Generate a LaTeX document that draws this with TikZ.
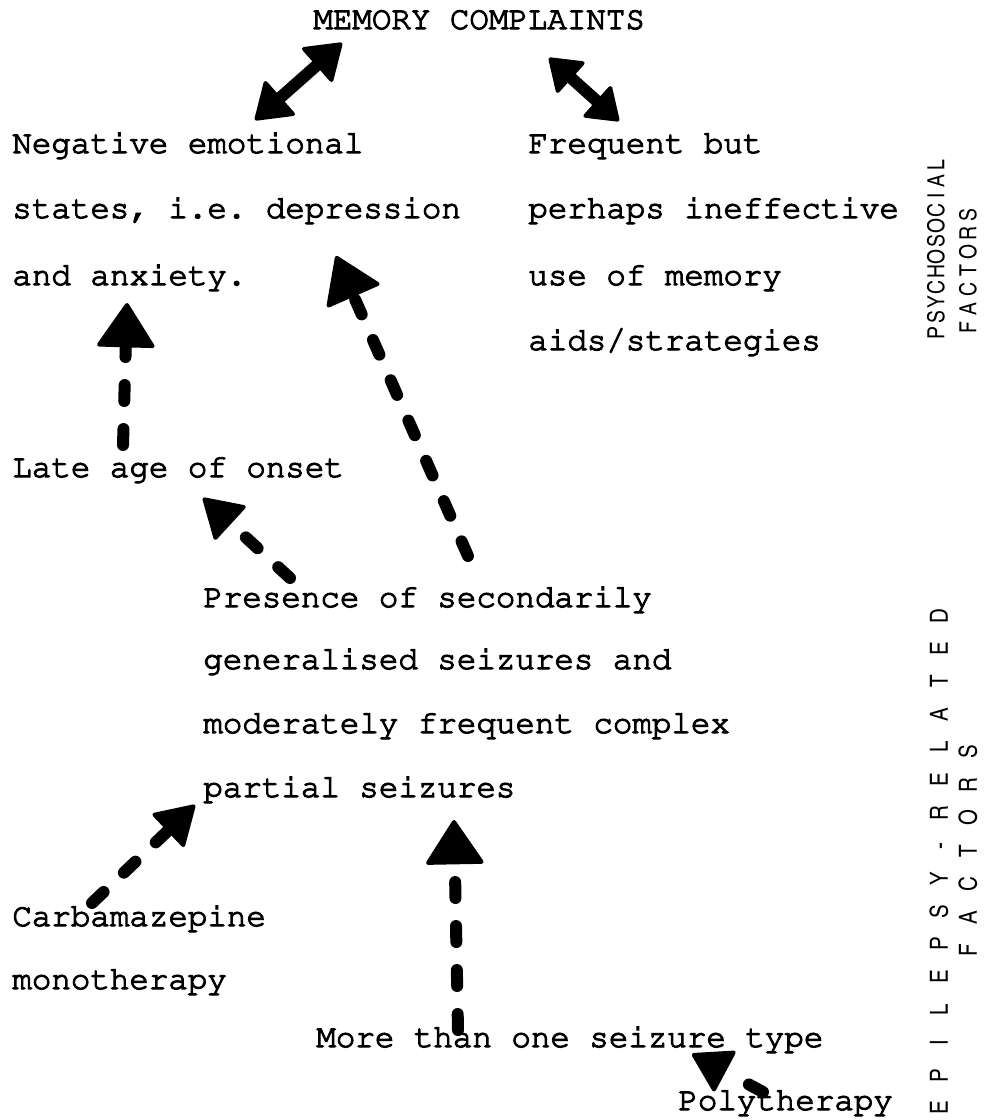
\documentclass[tikz,border=0pt]{standalone}
\usepackage[T1]{fontenc}
\usetikzlibrary{arrows.meta,calc}
\newlength{\lbw}
\newcommand{\Lb}[1]{\makebox[\lbw]{#1}}
\newcommand{\heavy}[1]{\special{pdf:literal direct 2 Tr 0.55 w}#1\special{pdf:literal direct 0 Tr}}
\tikzset{
  txt/.style={anchor=base west, inner sep=0pt,
    font=\fontfamily{pcr}\fontseries{m}\fontsize{16.25}{20}\selectfont\frenchspacing},
  sidetxt/.style={rotate=90, inner sep=0pt, anchor=center,
    font=\fontfamily{phv}\fontseries{mc}\fontsize{11.8}{14}\selectfont},
  bigside/.style={sidetxt, font=\fontfamily{phv}\fontseries{mc}\fontsize{12.5}{14}\selectfont},
  dasharrow/.style={line width=6pt, line cap=round, dash pattern=on 8pt off 14pt,
    -{Triangle[width=30pt,length=23pt,line width=2pt,round]}},
  smallhead/.style={line width=6pt, line cap=round, dash pattern=on 8pt off 14pt,
    -{Triangle[width=24pt,length=20pt,line width=2pt,round]}},
  dblarrow/.style={line width=6pt,
    {Triangle[width=24pt,length=18pt,line width=2pt,round]}-{Triangle[width=24pt,length=18pt,line width=2pt,round]}},
  dblsmall/.style={line width=6pt,
    {Triangle[width=22pt,length=16pt,line width=2pt,round]}-{Triangle[width=22pt,length=16pt,line width=2pt,round]}},
}
\begin{document}
\begin{tikzpicture}[x=0.5pt,y=-0.5pt]
\fill[white] (0,0) rectangle (984,1120);
\useasboundingbox (0,0) rectangle (984,1120);

% text
\node[txt] (mem) at (313,29) {\heavy{MEMORY COMPLAINTS}};
\node[txt] (neg1) at (12,153) {\heavy{Negative emotional}};
\node[txt] (neg2) at (12,218) {\heavy{states, i.e. depression}};
\node[txt] (neg3) at (12,285) {\heavy{and anxiety.}};
\node[txt] (fr1) at (528,153) {\heavy{Frequent but}};
\node[txt] (fr2) at (528,218) {\heavy{perhaps ineffective}};
\node[txt] (fr3) at (528,285) {\heavy{use of memory}};
\node[txt] (fr4) at (528,350) {\heavy{aids/strategies}};
\node[txt] (late) at (12,477) {\heavy{Late age of onset}};
\node[txt] (pr1) at (203,607) {\heavy{Presence of secondarily}};
\node[txt] (pr2) at (203,669) {\heavy{generalised seizures and}};
\node[txt] (pr3) at (203,733) {\heavy{moderately frequent complex}};
\node[txt] (pr4) at (203,797) {\heavy{partial seizures}};
\node[txt] (carb1) at (12,926) {\heavy{Carbamazepine}};
\node[txt] (carb2) at (12,989) {\heavy{monotherapy}};
\node[txt] (more) at (316,1047) {\heavy{More than one seizure type}};
\node[txt] (poly) at (678,1110) {\heavy{Polytherapy}};

% side labels
\node[sidetxt] (ps1) at (936,249) {\setlength{\lbw}{7.6pt}\Lb{P}\Lb{S}\Lb{Y}\Lb{C}\Lb{H}\Lb{O}\Lb{S}\Lb{O}\Lb{C}\Lb{I}\Lb{A}\Lb{L}};
\node[sidetxt] (ps2) at (968,271) {\setlength{\lbw}{9.4pt}\Lb{F}\Lb{A}\Lb{C}\Lb{T}\Lb{O}\Lb{R}\Lb{S}};
\node[bigside] (ep1) at (939,862) {\setlength{\lbw}{16.4pt}\Lb{E}\Lb{P}\Lb{I}\Lb{L}\Lb{E}\Lb{P}\Lb{S}\Lb{Y}\Lb{-}\Lb{R}\Lb{E}\Lb{L}\Lb{A}\Lb{T}\Lb{E}\Lb{D}};
\node[bigside] (ep2) at (968,851) {\setlength{\lbw}{16.6pt}\Lb{F}\Lb{A}\Lb{C}\Lb{T}\Lb{O}\Lb{R}\Lb{S}};

% connectors
\draw[dblarrow] ($(neg1.base west)+(243,-33)$) -- ($(mem.base west)+(29,14)$);
\draw[dblsmall] ($(mem.base west)+(236,29)$) -- ($(fr1.base west)+(91,-32)$);
\draw[dasharrow] ($(late.base west)+(111,-32)$) -- ($(neg3.base west)+(115,18)$);
\draw[dasharrow] ($(pr1.base west)+(265,-51)$) -- ($(neg2.base west)+(324,38)$);
\draw[smallhead] ($(pr1.base west)+(87,-29)$) -- ($(late.base west)+(191,21)$);
\draw[smallhead] ($(carb1.base west)+(80,-23)$) -- ($(pr4.base west)+(-8,8)$);
\draw[dasharrow] ($(more.base west)+(142,-17)$) -- ($(pr4.base west)+(251,23)$);
\draw[smallhead] ($(poly.base west)+(85,-18)$) -- ($(more.base west)+(376,7)$);
\end{tikzpicture}
\end{document}
